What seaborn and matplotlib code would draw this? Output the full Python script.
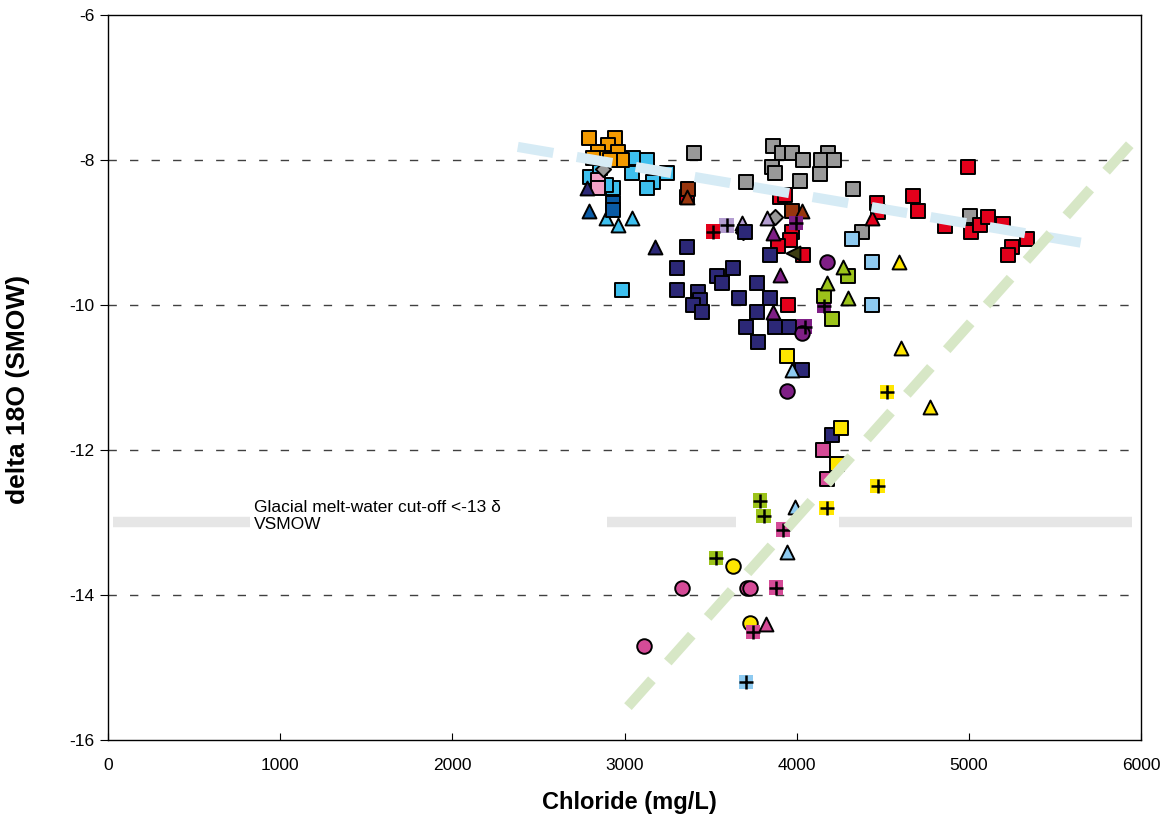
import matplotlib
matplotlib.use("Agg")
import matplotlib.pyplot as plt
import seaborn as sns

sns.set_style("white")
plt.rcParams["font.family"] = ["Liberation Sans", "DejaVu Sans"]
plt.rcParams["axes.unicode_minus"] = False
plt.rcParams["text.color"] = "black"
plt.rcParams["axes.labelcolor"] = "black"
plt.rcParams["xtick.color"] = "black"
plt.rcParams["ytick.color"] = "black"

# ---- sample groups: chloride (mg/L) and delta 18O (per mil SMOW) ----
orange_sq_x = [2793, 2944, 2904, 2845, 2962, 2985, 2874, 2816, 2915]
orange_sq_y = [-7.70, -7.70, -7.79, -7.89, -7.89, -8.00, -7.97, -7.97, -8.00]

cyan_sq_x = [3049, 3130, 3043, 3165, 3130, 3246, 2933, 2799, 2973, 2857, 2892, 2985]
cyan_sq_y = [-7.97, -8.00, -8.18, -8.30, -8.39, -8.18, -8.39, -8.23, -8.00, -8.11, -8.34, -9.79]
cyan_tri_x = [2892, 2962, 3043]
cyan_tri_y = [-8.80, -8.90, -8.80]

dblue_sq_x = [2933, 2933]
dblue_sq_y = [-8.59, -8.69]
dblue_tri_x = [2793]
dblue_tri_y = [-8.70]

pink_sq_x = [2845, 2845]
pink_sq_y = [-8.28, -8.39]

grey_sq_x = [3403, 3705, 3862, 3914, 3972, 4036, 4181, 4140, 4216, 3856, 3873, 4018, 4135, 4326, 4378, 5006]
grey_sq_y = [-7.90, -8.30, -7.81, -7.90, -7.90, -8.00, -7.90, -8.00, -8.00, -8.10, -8.18, -8.29, -8.19, -8.40, -8.99, -8.77]
grey_dia_x = [2874, 3687, 3873]
grey_dia_y = [-8.12, -9.00, -8.79]

lav_tri_x = [3682, 3827]
lav_tri_y = [-8.87, -8.80]
lav_plus_x = [3594]
lav_plus_y = [-8.90]

red_sq_x = [3362, 3902, 3930, 4466, 4471, 4675, 4704, 4860, 4994, 5011, 5064, 5110, 5197,
            5337, 5250, 5226, 3972, 3960, 3891, 4036, 3949]
red_sq_y = [-8.51, -8.51, -8.48, -8.59, -8.72, -8.50, -8.70, -8.91, -8.10, -8.99, -8.90, -8.79, -8.88,
            -9.09, -9.20, -9.31, -8.99, -9.10, -9.19, -9.31, -10.00]
red_tri_x = [4437]
red_tri_y = [-8.80]
red_plus_x = [3513]
red_plus_y = [-8.99]

brown_sq_x = [3368, 3972]
brown_sq_y = [-8.40, -8.70]
brown_tri_x = [3362, 4030]
brown_tri_y = [-8.51, -8.70]
olive_lt_x = [3978]
olive_lt_y = [-9.28]

purple_plus_x = [3995, 4047, 4158]
purple_plus_y = [-8.87, -10.30, -10.01]
purple_tri_x = [3862, 3902, 3862]
purple_tri_y = [-9.01, -9.59, -10.10]
purple_cir_x = [4175, 4030, 3943]
purple_cir_y = [-9.41, -10.39, -11.19]

navy_sq_x = [3362, 3304, 3304, 3629, 3536, 3565, 3426, 3438, 3397, 3449, 3769, 3664,
             3844, 3769, 3705, 3873, 3955, 3775, 3844, 4030, 3699, 4204]
navy_sq_y = [-9.20, -9.49, -9.79, -9.49, -9.60, -9.70, -9.82, -9.93, -10.00, -10.10, -9.70, -9.90,
             -9.90, -10.10, -10.30, -10.30, -10.30, -10.51, -9.31, -10.90, -9.00, -11.79]
navy_tri_x = [3176, 2781]
navy_tri_y = [-9.20, -8.39]

lime_sq_x = [4297, 4158, 4204]
lime_sq_y = [-9.60, -9.88, -10.19]
lime_tri_x = [4175, 4297, 4268]
lime_tri_y = [-9.70, -9.90, -9.48]
lime_plus_x = [3786, 3809, 3531]
lime_plus_y = [-12.70, -12.91, -13.49]

lblue_sq_x = [4320, 4437, 4437]
lblue_sq_y = [-9.09, -9.41, -10.00]
lblue_tri_x = [3972, 3989, 3943]
lblue_tri_y = [-10.90, -12.79, -13.41]
lblue_plus_x = [3705]
lblue_plus_y = [-15.20]

yellow_tri_x = [4593, 4605, 4773]
yellow_tri_y = [-9.41, -10.59, -11.41]
yellow_plus_x = [4524, 4471, 4175]
yellow_plus_y = [-11.20, -12.50, -12.80]
yellow_sq_x = [3943, 4257, 4233]
yellow_sq_y = [-10.70, -11.70, -12.19]
yellow_cir_x = [3629, 3728]
yellow_cir_y = [-13.60, -14.39]

mag_sq_x = [4152, 4175]
mag_sq_y = [-12.00, -12.40]
mag_plus_x = [3920, 3879, 3746]
mag_plus_y = [-13.10, -13.90, -14.51]
mag_cir_x = [3333, 3710, 3730, 3113]
mag_cir_y = [-13.90, -13.90, -13.90, -14.70]
mag_tri_x = [3821]
mag_tri_y = [-14.40]

# trend lines and the glacial melt-water threshold
seawater_trend_x = [2380, 5650]
seawater_trend_y = [-7.82, -9.14]
mixing_trend_x = [3020, 5935]
mixing_trend_y = [-15.54, -7.79]
cutoff_level = -13.0
cutoff_starts = [30, 2900, 4245]
cutoff_ends = [825, 3650, 5950]

x_ticks = [0, 1000, 2000, 3000, 4000, 5000, 6000]
y_ticks = [-16, -14, -12, -10, -8, -6]

C = {
    "orange": "#f39a00", "cyan": "#3dbfee", "dblue": "#0a5ba6", "pink": "#f3a3c7",
    "grey": "#999999", "lav": "#b39dd0", "red": "#e3001b", "brown": "#98360e",
    "olive": "#3d3d12", "purple": "#7f1f86", "navy": "#2c2877", "lime": "#9cc31a",
    "lblue": "#8ecaf0", "yellow": "#ffe600", "mag": "#d54b97",
}

fig, ax = plt.subplots(figsize=(11.72, 8.23), dpi=100)
fig.subplots_adjust(left=0.0922, right=0.9735, top=0.9818, bottom=0.1009)

# dashed reference grid
for yv in [-14, -12, -10, -8]:
    ax.axhline(yv, color="#404040", lw=1.0, dashes=(6, 9.5), zorder=1)

ax.hlines([cutoff_level] * len(cutoff_starts), cutoff_starts, cutoff_ends,
          color="#e6e6e6", lw=7.5, zorder=1.5)

MS = 110
EW = 1.4


def plain(x, y, marker, key, s=MS):
    sns.scatterplot(x=x, y=y, marker=marker, color=C[key], edgecolor="black",
                    linewidth=EW, s=s, ax=ax, zorder=3, legend=False)


def plus(x, y, key):
    sns.scatterplot(x=x, y=y, marker="s", color=C[key], edgecolor="none",
                    linewidth=0, s=MS, ax=ax, zorder=3, legend=False)
    sns.scatterplot(x=x, y=y, marker="+", color="black", linewidth=1.8,
                    s=110, ax=ax, zorder=3.1, legend=False)


plain(cyan_sq_x, cyan_sq_y, "s", "cyan")
plain(orange_sq_x, orange_sq_y, "s", "orange")
plain(cyan_tri_x, cyan_tri_y, "^", "cyan", s=100)
plain(dblue_sq_x, dblue_sq_y, "s", "dblue")
plain(dblue_tri_x, dblue_tri_y, "^", "dblue", s=100)
plain(pink_sq_x, pink_sq_y, "s", "pink")
plain(grey_sq_x, grey_sq_y, "s", "grey")
plain(grey_dia_x, grey_dia_y, "D", "grey", s=60)
plain(lav_tri_x, lav_tri_y, "^", "lav", s=100)
plus(lav_plus_x, lav_plus_y, "lav")
plain(red_sq_x, red_sq_y, "s", "red")
plain(red_tri_x, red_tri_y, "^", "red", s=100)
plus(red_plus_x, red_plus_y, "red")
plain(brown_sq_x, brown_sq_y, "s", "brown")
plain(brown_tri_x, brown_tri_y, "^", "brown", s=100)
plain(olive_lt_x, olive_lt_y, "<", "olive", s=100)
plain(navy_sq_x, navy_sq_y, "s", "navy")
plain(navy_tri_x, navy_tri_y, "^", "navy", s=100)
plus(purple_plus_x, purple_plus_y, "purple")
plain(purple_tri_x, purple_tri_y, "^", "purple", s=100)
plain(purple_cir_x, purple_cir_y, "o", "purple")
plain(lime_sq_x, lime_sq_y, "s", "lime")
plain(lime_tri_x, lime_tri_y, "^", "lime", s=100)
plus(lime_plus_x, lime_plus_y, "lime")
plain(lblue_sq_x, lblue_sq_y, "s", "lblue")
plain(lblue_tri_x, lblue_tri_y, "^", "lblue", s=100)
plus(lblue_plus_x, lblue_plus_y, "lblue")
plain(yellow_tri_x, yellow_tri_y, "^", "yellow", s=100)
plus(yellow_plus_x, yellow_plus_y, "yellow")
plain(yellow_sq_x, yellow_sq_y, "s", "yellow")
plain(yellow_cir_x, yellow_cir_y, "o", "yellow")
plain(mag_sq_x, mag_sq_y, "s", "mag")
plus(mag_plus_x, mag_plus_y, "mag")
plain(mag_cir_x, mag_cir_y, "o", "mag")
plain(mag_tri_x, mag_tri_y, "^", "mag", s=100)

# broad dashed trend lines drawn over the points
for tx, ty, col in [(seawater_trend_x, seawater_trend_y, "#d6ebf5"),
                    (mixing_trend_x, mixing_trend_y, "#d7e7c6")]:
    sns.lineplot(x=tx, y=ty, color=col, lw=7.3, ax=ax, zorder=4, legend=False)
    ln = ax.lines[-1]
    ln.set_dashes((3.55, 2.35))
    ln.set_dash_capstyle("butt")

ax.text(848, -12.91, "Glacial melt-water cut-off <-13 δ\nVSMOW", fontsize=12.5,
        ha="left", va="center", linespacing=1.1, zorder=5)

ax.set_xlim(0, 6000)
ax.set_ylim(-16, -6)
ax.set_xticks(x_ticks)
ax.set_yticks(y_ticks)
ax.set_xticklabels([str(t) for t in x_ticks], fontsize=12.5)
ax.set_yticklabels([str(t) for t in y_ticks], fontsize=12.5)
ax.tick_params(axis="x", direction="in", length=5, width=0.8, pad=13, bottom=True)
ax.tick_params(axis="y", direction="out", length=6, width=0.8, pad=4, left=True)

ax.set_xlabel("Chloride (mg/L)", fontsize=17, fontweight="bold")
ax.set_ylabel("delta 18O (SMOW)", fontsize=19, fontweight="bold")
ax.xaxis.set_label_coords(0.505, -0.070)
ax.yaxis.set_label_coords(-0.0755, 0.483)

for sp in ax.spines.values():
    sp.set_visible(True)
    sp.set_color("black")
    sp.set_linewidth(1.0)

fig.savefig("out.png", dpi=100, facecolor="white")
